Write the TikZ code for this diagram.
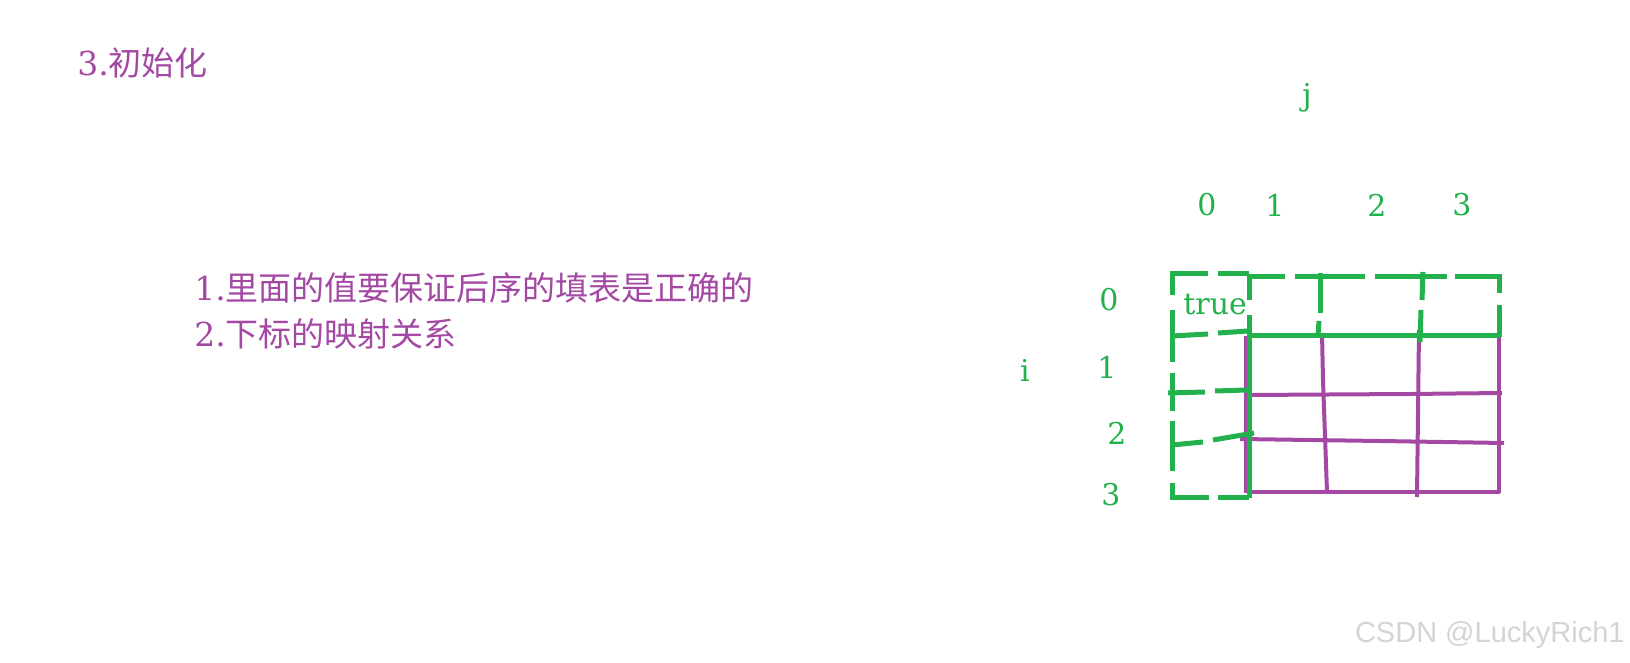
\documentclass[tikz,border=0pt]{standalone}
\usepackage{fontspec}
\setmainfont{DejaVu Serif}
\newfontfamily\cjk{Noto Sans CJK SC}
\newfontfamily\wmfont{Liberation Sans}
\definecolor{pgreen}{HTML}{22B14C}
\definecolor{ppurple}{HTML}{A349A4}
\definecolor{wmgray}{HTML}{D4D4D4}
\begin{document}
\begin{tikzpicture}[x=0.5pt,y=-0.5pt,
  gline/.style={draw=pgreen,line width=2.5pt},
  pline/.style={draw=ppurple,line width=2pt},
  lbl/.style={text=pgreen,inner sep=0pt,font=\fontsize{15}{18}\selectfont},
  ptxt/.style={text=ppurple,inner sep=0pt,anchor=west,font=\fontsize{16.5}{20}\selectfont},
  wm/.style={text=wmgray,inner sep=0pt,font=\wmfont\fontsize{14.5}{17}\selectfont}]
\useasboundingbox (0,0) rectangle (1630,663);
% texts
\node[ptxt] (title) at (77,63) {3.{\cjk 初始化}};
\node[ptxt] (line1) at (194,288) {1.{\cjk 里面的值要保证后序的填表是正确的}};
\node[ptxt] (line2) at (194,334) {2.{\cjk 下标的映射关系}};
\node[lbl] (j) at (1307,98) {j};
\node[lbl] (c0) at (1207,205) {0};
\node[lbl] (c1) at (1275,205) {1};
\node[lbl] (c2) at (1377,205) {2};
\node[lbl] (c3) at (1462,205) {3};
\node[lbl] (i) at (1025,370) {i};
\node[lbl] (r0) at (1109,300) {0};
\node[lbl] (r1) at (1107,367) {1};
\node[lbl] (r2) at (1117,433) {2};
\node[lbl] (r3) at (1111,495) {3};
\node[lbl,anchor=base west] (true) at (1183,315) {true};
\node[wm,anchor=east] (wmark) at (1625,635) {CSDN @LuckyRich1};
% purple grid
\draw[pline] (1246,336) -- (1246,493);
\draw[pline] (1322,333) -- (1323,380) -- (1327,492);
\draw[pline] (1419,330) -- (1417,497);
\draw[pline] (1499,337) -- (1499,493);
\draw[pline] (1248,395) -- (1410,394) -- (1502,393);
\draw[pline] (1240,439) -- (1380,441) -- (1504,443);
\draw[pline] (1247,492) -- (1500,492);
% green solid
\draw[gline] (1249,274) -- (1249,300);
\draw[gline] (1249,315) -- (1249,498);
\draw[gline] (1248,336) -- (1500,336);
% left column dashed box
\draw[gline] (1172,295) -- (1172,274) -- (1208,274);
\draw[gline] (1218,274) -- (1249,274);
\draw[gline] (1172,310) -- (1172,362);
\draw[gline] (1172,373) -- (1172,411);
\draw[gline] (1172,421) -- (1172,471);
\draw[gline] (1172,483) -- (1172,498) -- (1209,498);
\draw[gline] (1218,498) -- (1249,498);
\draw[gline] (1172,336) -- (1208,334);
\draw[gline] (1218,333) -- (1248,331);
\draw[gline] (1168,393) -- (1205,392);
\draw[gline] (1215,391) -- (1247,390);
\draw[gline] (1172,445) -- (1203,442);
\draw[gline] (1213,440) -- (1254,433);
% top row dashed
\draw[gline] (1250,277) -- (1285,277);
\draw[gline] (1295,277) -- (1365,277);
\draw[gline] (1375,277) -- (1447,277);
\draw[gline] (1455,277) -- (1499,277) -- (1499,293);
\draw[gline] (1499,305) -- (1499,337);
\draw[gline] (1320,273) -- (1320,313);
\draw[gline] (1319,321) -- (1318,336);
\draw[gline] (1423,272) -- (1422,300);
\draw[gline] (1421,310) -- (1420,342);
\end{tikzpicture}
\end{document}
